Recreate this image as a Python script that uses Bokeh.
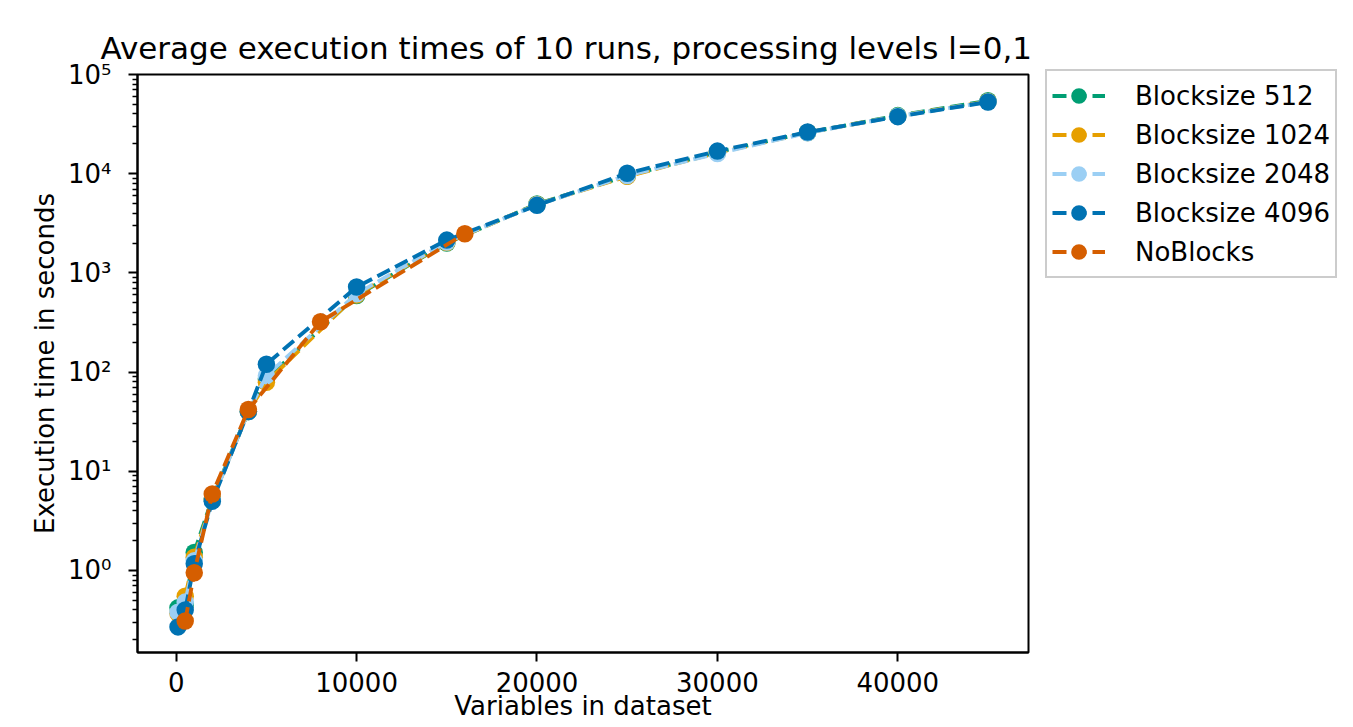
from bokeh.plotting import figure
from bokeh.models import Range1d, FixedTicker, CustomJSTickFormatter, Legend, LegendItem
from bokeh.embed import file_html
from bokeh.resources import INLINE

# ---- data ----
x_blocks = [100, 500, 1000, 2000, 4000, 5000, 10000, 15000, 20000, 25000, 30000, 35000, 40000, 45000]
t_512 = [0.42, 0.45, 1.52, 5.3, 40, 85, 590, 2000, 4950, 9500, 16500, 26000, 38500, 54500]
t_1024 = [0.37, 0.55, 1.36, 5.2, 40, 79, 600, 2020, 4900, 9400, 16200, 26000, 38000, 53500]
t_2048 = [0.38, 0.48, 1.25, 5.1, 40, 92, 615, 2050, 4850, 9600, 16000, 25800, 38000, 53000]
t_4096 = [0.27, 0.40, 1.17, 5.0, 40, 120, 720, 2140, 4800, 10100, 16900, 26300, 37600, 52800]
x_noblocks = [500, 1000, 2000, 4000, 8000, 16000]
t_noblocks = [0.31, 0.95, 5.9, 42, 322, 2480]

series_names = ["Blocksize 512", "Blocksize 1024", "Blocksize 2048", "Blocksize 4096", "NoBlocks"]
series_x = [x_blocks, x_blocks, x_blocks, x_blocks, x_noblocks]
series_y = [t_512, t_1024, t_2048, t_4096, t_noblocks]
colors = ["#009E73", "#E69F00", "#9BCFF4", "#0072B2", "#D55E00"]

x_ticks = [0, 10000, 20000, 30000, 40000]
y_ticks = [1e0, 1e1, 1e2, 1e3, 1e4, 1e5]

FONT = "DejaVu Sans"

p = figure(frame_width=891, frame_height=578, output_backend="svg", toolbar_location=None,
           y_axis_type="log",
           x_range=Range1d(-2145, 47245), y_range=Range1d(0.149, 1e5),
           min_border_left=137, min_border_right=325, min_border_top=74, min_border_bottom=75,
           title="Average execution times of 10 runs, processing levels l=0,1")

p.title.text_font = FONT
p.title.text_font_size = "31px"
p.title.text_font_style = "normal"
p.title.align = "left"
p.title.offset = -37
p.title.text_color = "black"
p.title.standoff = 17

p.xgrid.visible = False
p.ygrid.visible = False
p.outline_line_color = "black"
p.outline_line_width = 2
p.outline_line_alpha = 1

items = []
for name, xs, ys, c in zip(series_names, series_x, series_y, colors):
    r1 = p.line(xs, ys, line_color=c, line_width=3.9, line_dash="14 6")
    r2 = p.scatter(xs, ys, size=17.5, fill_color=c, line_color=c, line_width=0)
    items.append(LegendItem(label=name, renderers=[r1, r2]))

# axes
minor = []
for k in range(-1, 5):
    for m in range(2, 10):
        minor.append(m * 10 ** k)
p.yaxis.ticker = FixedTicker(ticks=y_ticks, minor_ticks=minor)
p.yaxis.formatter = CustomJSTickFormatter(code="""
const sup = {"-1": "\u207b\u00b9", "0": "\u2070", "1": "\u00b9", "2": "\u00b2", "3": "\u00b3", "4": "\u2074", "5": "\u2075"};
const e = Math.round(Math.log10(tick));
return "10" + sup[String(e)];
""")
p.xaxis.ticker = FixedTicker(ticks=x_ticks)
p.xaxis.minor_tick_line_color = None

for ax in [p.xaxis[0], p.yaxis[0]]:
    ax.axis_line_color = "black"
    ax.axis_line_width = 2
    ax.major_tick_line_width = 2
    ax.major_tick_out = 9
    ax.major_tick_in = 0
    ax.minor_tick_line_width = 1.5
    ax.minor_tick_out = 5
    ax.minor_tick_in = 0
    ax.major_label_text_font = FONT
    ax.major_label_text_font_size = "26px"
    ax.major_label_text_color = "black"
    ax.axis_label_text_font = FONT
    ax.axis_label_text_font_size = "26px"
    ax.axis_label_text_font_style = "normal"
    ax.axis_label_text_color = "black"

p.xaxis.axis_label = "Variables in dataset"
p.yaxis.axis_label = "Execution time in seconds"
p.xaxis.major_label_standoff = 10
p.xaxis.axis_label_standoff = -4
p.yaxis.major_label_standoff = 17
p.yaxis.axis_label_standoff = 5

legend = Legend(items=items, location=(17, 374),
                glyph_width=53, glyph_height=39, label_height=39,
                spacing=0, padding=5, margin=0, label_standoff=30,
                label_text_font=FONT, label_text_font_size="26px",
                label_text_color="black",
                border_line_color="#cccccc", border_line_width=2, border_line_alpha=1,
                background_fill_color="white", background_fill_alpha=0.8)
p.add_layout(legend, "right")

open("out.html", "w").write(file_html(p, INLINE))
